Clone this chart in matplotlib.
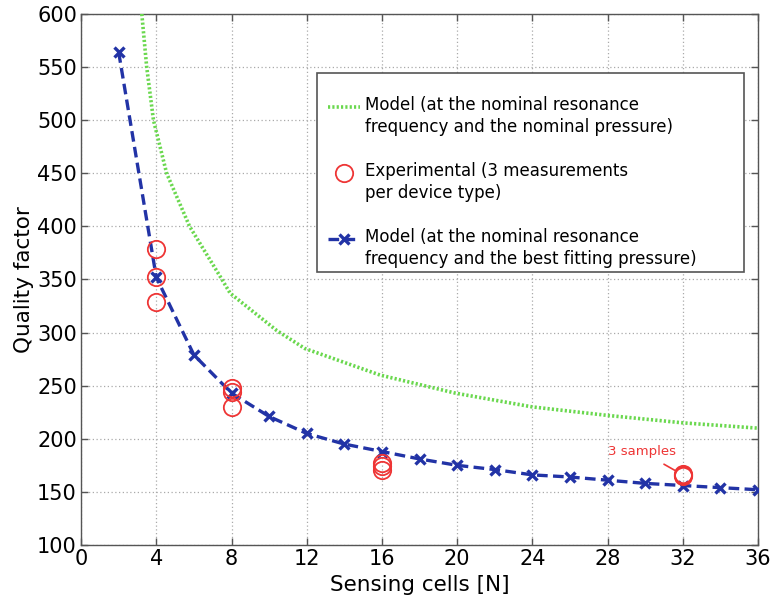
import matplotlib
matplotlib.use("Agg")
import matplotlib.pyplot as plt
from matplotlib.lines import Line2D
from matplotlib.patches import Rectangle

# ---- data ----
green_x = [3.23, 3.49, 3.85, 4.55, 5.77, 7.39, 7.93, 10.4, 11.9, 15.9, 19.9, 24, 28, 32, 36]
green_y = [600, 550, 500, 450, 400, 353, 337, 302, 285, 260, 243, 230, 222, 215, 210]

blue_x = [2, 4, 6, 8, 10, 12, 14, 16, 18, 20, 22, 24, 26, 28, 30, 32, 34, 36]
blue_y = [564, 352, 279, 243, 221, 205, 195, 188, 181, 175, 171, 166, 164, 161, 158, 156, 154, 152]

exp_x = [4, 4, 4, 8, 8, 8, 16, 16, 16, 32, 32, 32]
exp_y = [379, 352, 329, 248, 244, 230, 177, 174, 171, 167, 166, 165]

x_ticks = [0, 4, 8, 12, 16, 20, 24, 28, 32, 36]
y_ticks = [100, 150, 200, 250, 300, 350, 400, 450, 500, 550, 600]

labels = ["Model (at the nominal resonance\nfrequency and the nominal pressure)",
          "Experimental (3 measurements\nper device type)",
          "Model (at the nominal resonance\nfrequency and the best fitting pressure)"]

GREEN = "#6ad84e"
BLUE = "#2233a6"
RED = "#ee3535"

plt.rcParams['font.family'] = ['DejaVu Sans']

fig = plt.figure(figsize=(7.72, 6.05), dpi=100)
ax = fig.add_axes([0.105, 0.0992, 0.877, 0.8777])

green_style = dict(color=GREEN, linestyle=(0, (0.6, 0.6)), lw=2.6)
blue_style = dict(color=BLUE, linestyle=(0, (3.2, 1.6)), lw=2.4,
                  marker='x', markersize=6.5, mew=2.4)
red_style = dict(linestyle='none', marker='o', markersize=12.5,
                 markerfacecolor='none', markeredgecolor=RED, mew=1.3)

ax.plot(green_x, green_y, zorder=3, **green_style)
ax.plot(blue_x, blue_y, zorder=4, **blue_style)
ax.plot(exp_x, exp_y, zorder=5, **red_style)

ax.set_xlim(0, 36)
ax.set_ylim(100, 600)
ax.set_xticks(x_ticks)
ax.set_yticks(y_ticks)
ax.tick_params(direction='in', top=True, right=True, length=5, width=1,
               color='#555555', labelsize=15, pad=3)
for s in ax.spines.values():
    s.set_color('#555555')
    s.set_linewidth(1.0)
ax.grid(True, linestyle=(0, (1, 2)), color='#aaaaaa', lw=0.9)
ax.set_axisbelow(True)

ax.set_xlabel("Sensing cells [N]", fontsize=15.5, labelpad=4)
ax.set_ylabel("Quality factor", fontsize=15.5, labelpad=2)

# annotation
ax.annotate("3 samples", xy=(31.65, 169.5), xytext=(29.8, 188),
            color=RED, fontsize=9.5, ha='center', va='center',
            arrowprops=dict(arrowstyle='-', color=RED, lw=1.2, shrinkA=5, shrinkB=0))

# legend (MATLAB style: handle aligned with first text line)
def ax_x(px):
    return (px - 81) / 677.0

def ax_y(py):
    return (545 - py) / 531.0

box = Rectangle((ax_x(317), ax_y(272)), ax_x(744) - ax_x(317), ax_y(72.7) - ax_y(272),
                transform=ax.transAxes, facecolor='white', edgecolor='#555555',
                lw=1.2, zorder=8)
ax.add_patch(box)

styles = [green_style, red_style, blue_style]
for i, (lab, st) in enumerate(zip(labels, styles)):
    py = 107 + 66 * i
    if st is red_style:
        ax.add_line(Line2D([ax_x(344)], [ax_y(py)], transform=ax.transAxes,
                           zorder=9, clip_on=False, **st))
    elif st is blue_style:
        ax.add_line(Line2D([ax_x(328), ax_x(360)], [ax_y(py), ax_y(py)],
                           transform=ax.transAxes, zorder=9, clip_on=False,
                           **{k: v for k, v in st.items() if k not in ('marker', 'markersize', 'mew')}))
        ax.add_line(Line2D([ax_x(344)], [ax_y(py)], transform=ax.transAxes, zorder=9,
                           clip_on=False, color=BLUE, linestyle='none', marker='x',
                           markersize=6.5, mew=2.4))
    else:
        ax.add_line(Line2D([ax_x(328), ax_x(360)], [ax_y(py), ax_y(py)],
                           transform=ax.transAxes, zorder=9, clip_on=False, **st))
    ax.text(ax_x(365), ax_y(py - 11), lab, transform=ax.transAxes, fontsize=12,
            ha='left', va='top', linespacing=1.28, zorder=9)

fig.savefig("out.png", dpi=100)
